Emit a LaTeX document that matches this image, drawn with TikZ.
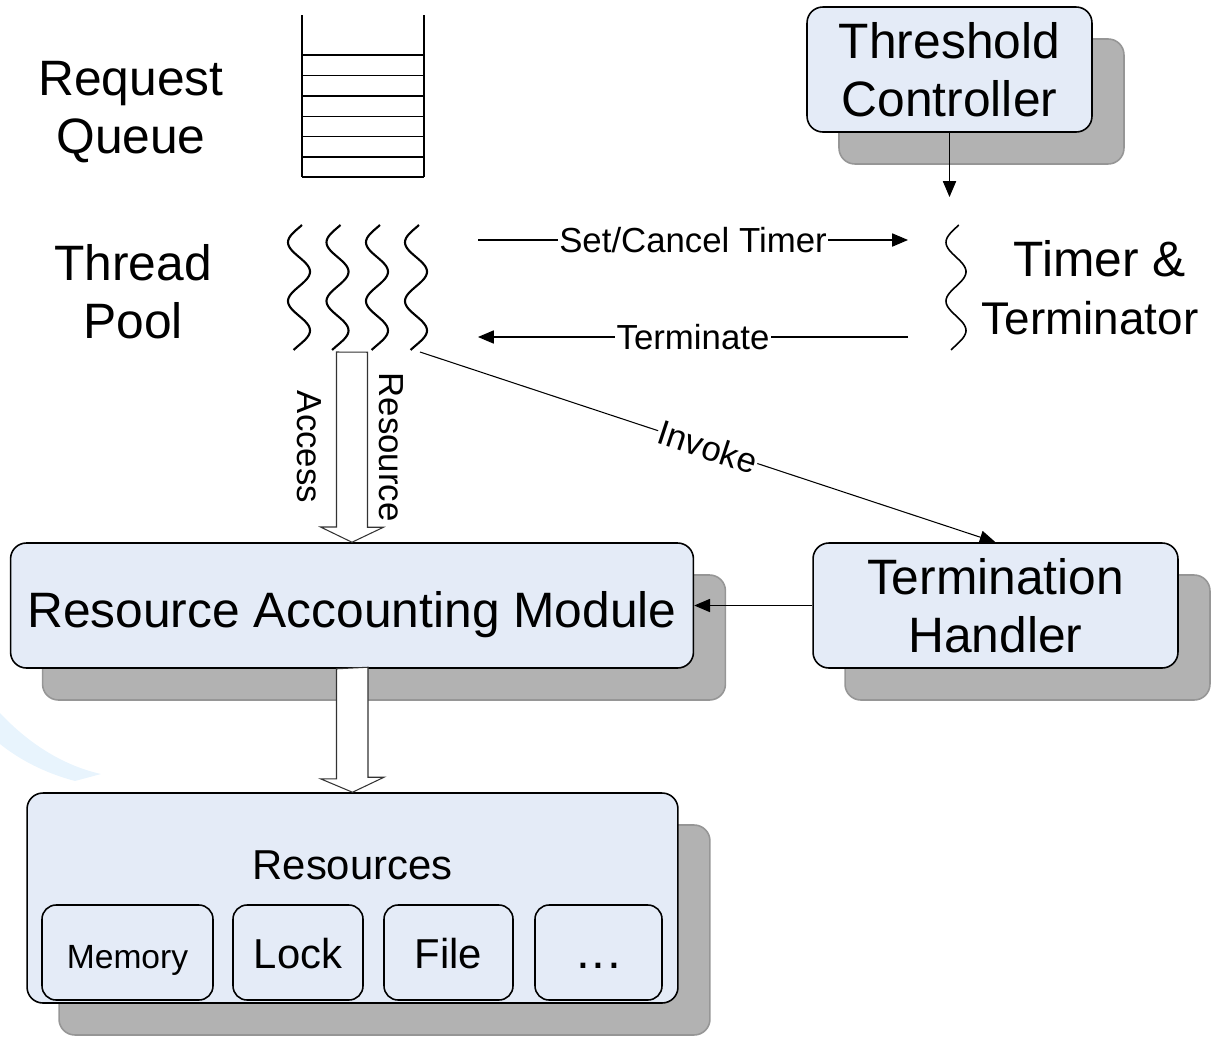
\documentclass[tikz,border=0pt]{standalone}
\usepackage{fontspec}
\setmainfont{Liberation Sans}
\usetikzlibrary{arrows.meta,shadows}
\definecolor{boxfill}{RGB}{228,235,247}
\definecolor{shadowgray}{RGB}{178,178,178}
\definecolor{shadowedge}{RGB}{150,150,150}
\definecolor{wmblue}{RGB}{232,244,253}
\newcommand{\bigtxt}{\fontsize{28.3}{32.9}\selectfont}
\newcommand{\midtxt}{\fontsize{23.8}{28}\selectfont}
\newcommand{\smalltxt}{\fontsize{19.8}{23}\selectfont}

\begin{document}
\begin{tikzpicture}[x=0.02cm,y=-0.02cm,
    box/.style={draw,line width=0.9pt,rounded corners=9pt,fill=boxfill,inner sep=0pt,align=center,
      drop shadow={shadow xshift=0.64cm,shadow yshift=-0.64cm,opacity=1,fill=shadowgray,draw=shadowedge}},
    inbox/.style={draw,line width=0.9pt,rounded corners=8pt,fill=boxfill,inner sep=0pt,minimum height=1.9cm,
      text height=18.7pt,text depth=0pt},
    thinarrow/.style={line width=0.6pt,-{Triangle[length=9pt,width=7.5pt]}},
    hollow/.style={draw=black!80,line width=0.6pt,fill=white}]
    \useasboundingbox (0,0) rectangle (1230,1062);
    % faint mark on the left
    \fill[wmblue] (0,713) .. controls (30,745) and (65,766) .. (101,774) -- (75,781) .. controls (45,773) and (20,760) .. (0,744) -- cycle;

    % queue and thread pool
    \node[font=\bigtxt,align=center] (rq) at (131,112) {Request\\Queue};
    \draw[line width=0.8pt] (302,15) -- (302,177) (424,15) -- (424,177);
    \foreach \y in {55,75.5,96,116.5,136.5,157,177}
      \draw[line width=0.8pt] (302,\y) -- (424,\y);
    \node[font=\bigtxt,align=center] (tp) at (133,292) {Thread\\Pool};
    \foreach \c in {299,337.5,377,416}
      \draw[line width=1.2pt] plot[domain=225:350,samples=80,smooth] ({\c+11*cos(180*(\x-271.7)/29.4)},\x);
    \coordinate (pool) at (352,352);
    \coordinate (inv) at (420,352);

    % timer
    \node[box,minimum width=5.7cm,minimum height=2.5cm,font=\bigtxt] (thc) at (949.5,69.5) {Threshold\\Controller};
    \coordinate (timertop) at (949.5,197);
    \draw[line width=0.9pt] plot[domain=225:350,samples=80,smooth] ({956+10*cos(180*(\x-271.7)/29.4)},\x);
    \node[font=\bigtxt,align=center] (tt) at (1090,288) {\hspace*{11pt}Timer \&\\\fontsize{26.1}{30}\selectfont Terminator};
    \coordinate (setL) at (478,240);
    \coordinate (setR) at (908,240);
    \coordinate (termL) at (478,337);
    \coordinate (termR) at (908,337);

    % modules
    \node[box,minimum width=13.66cm,minimum height=2.5cm,font=\bigtxt,text height=25.5pt,text depth=0pt] (ram) at (352,605.5) {Resource Accounting Module};
    \node[box,minimum width=7.3cm,minimum height=2.5cm,font=\bigtxt] (th) at (995.5,605.5) {Termination\\Handler};
    \node[box,minimum width=13.02cm,minimum height=4.2cm] (res) at (352.5,898) {};
    \node[font=\midtxt] (restitle) at (352.5,865) {Resources};
    \node[inbox,minimum width=3.42cm,font=\fontsize{19.1}{22}\selectfont] (mem) at (127.5,952.5) {Memory};
    \node[inbox,minimum width=2.6cm,font=\midtxt] (lock) at (298,952.5) {Lock};
    \node[inbox,minimum width=2.58cm,font=\midtxt] (file) at (448.5,952.5) {File};
    \node[inbox,minimum width=2.54cm,font=\bigtxt] (etc) at (598.5,952.5) {.\kern1pt.\kern1pt.};

    % connectors
    \draw[thinarrow] (thc.south) -- (timertop);
    \draw[thinarrow] (setL) -- node[fill=white,inner sep=1pt,font=\smalltxt]{Set/Cancel Timer} (setR);
    \draw[thinarrow] (termR) -- node[fill=white,inner sep=1pt,font=\smalltxt]{Terminate} (termL);
    \draw[thinarrow] (inv) -- node[sloped,fill=white,inner sep=0.5pt,font=\smalltxt]{Invoke} (th.north);
    \draw[thinarrow] (th.west) -- (ram.east);
    \draw[hollow] (pool) ++(-15.5,0) -- ++(0,175) -- ++(-16,0) -- (ram.north) -- ++(31.5,-15) -- ++(-16,0) -- ++(0,-175) -- cycle;
    \node[rotate=-90,font=\smalltxt] (acc) at (309,447) {Access};
    \node[rotate=-90,font=\smalltxt] (rsc) at (391,447) {Resource};
    \draw[hollow] (ram.south) ++(-15.5,0) -- ++(0,110) -- ++(-16,0) -- (res.north) -- ++(31.5,-15) -- ++(-16,0) -- ++(0,-110) -- cycle;
  \end{tikzpicture}
\end{document}
